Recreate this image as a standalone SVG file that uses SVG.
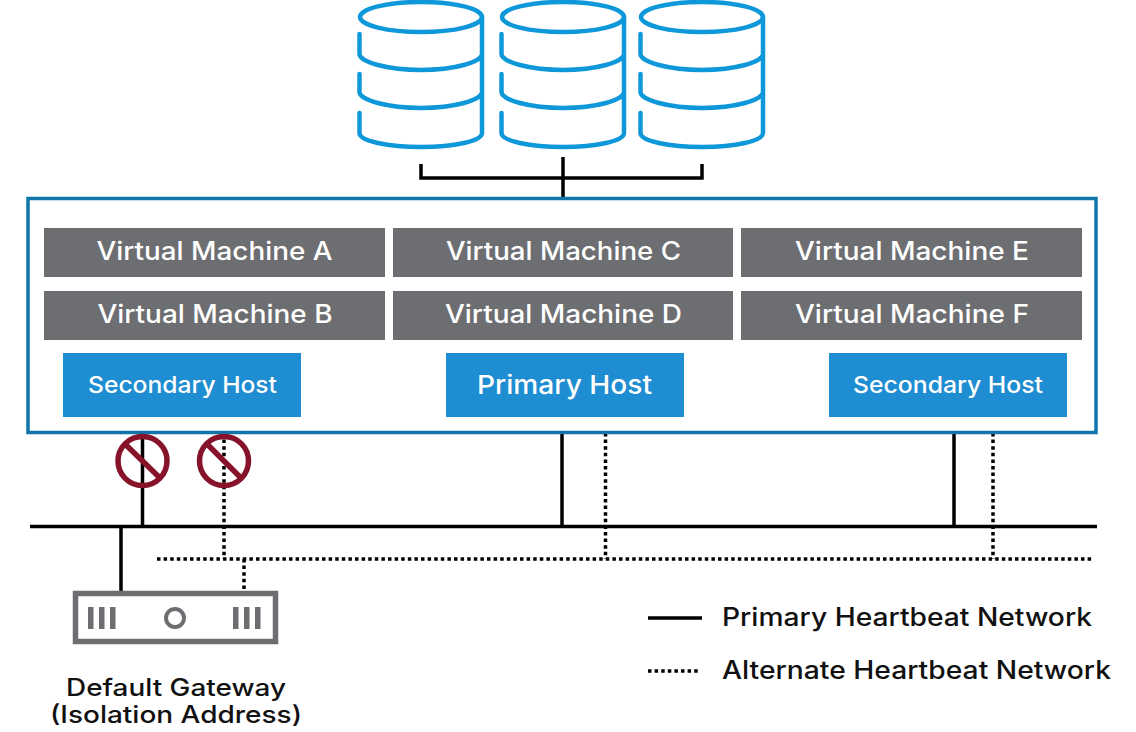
<svg xmlns="http://www.w3.org/2000/svg" width="1136" height="732" viewBox="0 0 1136 732">
<style>
text{font-family:"Inter","Open Sans","Liberation Sans",sans-serif;font-weight:500}
.w{fill:#fff}.k{fill:#111}
.vm{fill:#6d6e71}.host{fill:#1f8dd1}
.c{fill:none;stroke:#0f98d9;stroke-width:4.500;stroke-linecap:round}
.s{fill:none;stroke:#000;stroke-width:3.500}
.d{fill:none;stroke:#000;stroke-width:3.500;stroke-dasharray:3.500 3.100}
.no{fill:none;stroke:#861329;stroke-width:5.500}
.g{fill:#6d6e71}
</style>
<defs>
<g id="cyl">
<ellipse cx="62" cy="17" rx="61" ry="15" class="c"/>
<path class="c" d="M123 17V133C123 141 95 147 62 147C29 147 0.500 141 0.500 133V113M0.500 74V92C0.500 100 29 108 62 108C95 108 123 100 123 92M0.500 34V54C0.500 62 29 70 62 70C95 70 123 62 123 54"/>
</g>
</defs>
<rect width="1136" height="732" fill="#fff"/>
<g id="storage-1"><use href="#cyl" x="359"/></g>
<g id="storage-2"><use href="#cyl" x="501"/></g>
<g id="storage-3"><use href="#cyl" x="640"/></g>
<g id="connectors">
<path class="s" d="M421 164V178H702V164M563 157V198"/>
<path class="s" d="M30 526.500H1097M142.500 433V526.500M562 433V526.500M954 433V526.500M121 526.500V592"/>
<path class="d" d="M157 559H1093M224 433V559M605.500 433V559M993 433V559M244 559V592"/>
</g>
<g id="cluster"><rect x="28" y="198.500" width="1068" height="234" fill="none" stroke="#0f75aa" stroke-width="3.500"/></g>
<g id="vm-a"><rect class="vm" x="44" y="228" width="341" height="49"/><text class="w" x="96.500" y="260" font-size="25" textLength="236" lengthAdjust="spacingAndGlyphs">Virtual Machine A</text></g>
<g id="vm-b"><rect class="vm" x="44" y="291" width="341" height="49"/><text class="w" x="97.500" y="323" font-size="25" textLength="235" lengthAdjust="spacingAndGlyphs">Virtual Machine B</text></g>
<g id="vm-c"><rect class="vm" x="393" y="228" width="340" height="49"/><text class="w" x="446" y="260" font-size="25" textLength="235" lengthAdjust="spacingAndGlyphs">Virtual Machine C</text></g>
<g id="vm-d"><rect class="vm" x="393" y="291" width="340" height="49"/><text class="w" x="445" y="323" font-size="25" textLength="237" lengthAdjust="spacingAndGlyphs">Virtual Machine D</text></g>
<g id="vm-e"><rect class="vm" x="741" y="228" width="341" height="49"/><text class="w" x="795" y="260" font-size="25" textLength="234" lengthAdjust="spacingAndGlyphs">Virtual Machine E</text></g>
<g id="vm-f"><rect class="vm" x="741" y="291" width="341" height="49"/><text class="w" x="795" y="323" font-size="25" textLength="234" lengthAdjust="spacingAndGlyphs">Virtual Machine F</text></g>
<g id="host-1"><rect class="host" x="63" y="353" width="238" height="64"/><text class="w" x="88" y="393" font-size="23" textLength="189" lengthAdjust="spacingAndGlyphs">Secondary Host</text></g>
<g id="host-2"><rect class="host" x="446" y="353" width="238" height="64"/><text class="w" x="477" y="394" font-size="26" textLength="175" lengthAdjust="spacingAndGlyphs">Primary Host</text></g>
<g id="host-3"><rect class="host" x="829" y="353" width="238" height="64"/><text class="w" x="853" y="393" font-size="23" textLength="190" lengthAdjust="spacingAndGlyphs">Secondary Host</text></g>
<g id="block-1"><circle class="no" cx="142.500" cy="461" r="24.500"/><path class="no" d="M125 444L160 478"/></g>
<g id="block-2"><circle class="no" cx="224" cy="461" r="24.500"/><path class="no" d="M207 444L241 478"/></g>
<g id="gateway">
<rect x="75.500" y="593.500" width="200" height="48" fill="#fff" stroke="#6d6e71" stroke-width="5.500"/>
<path class="g" d="M88 607h5.500v22h-5.500zM99 607h5.500v22h-5.500zM110 607h5.500v22h-5.500zM233 607h5.500v22h-5.500zM244 607h5.500v22h-5.500zM255 607h5.500v22h-5.500z"/>
<circle cx="175" cy="618" r="9" fill="none" stroke="#6d6e71" stroke-width="4"/>
<text class="k" x="66" y="696" font-size="24" textLength="220" lengthAdjust="spacingAndGlyphs">Default Gateway</text>
<text class="k" x="50" y="723" font-size="24" textLength="252" lengthAdjust="spacingAndGlyphs">(Isolation Address)</text>
</g>
<g id="legend">
<path class="s" d="M648 618H702"/>
<path class="d" d="M648 671H700"/>
<text class="k" x="722" y="626" font-size="25" textLength="370" lengthAdjust="spacingAndGlyphs">Primary Heartbeat Network</text>
<text class="k" x="722" y="679" font-size="25" textLength="389" lengthAdjust="spacingAndGlyphs">Alternate Heartbeat Network</text>
</g>
</svg>
